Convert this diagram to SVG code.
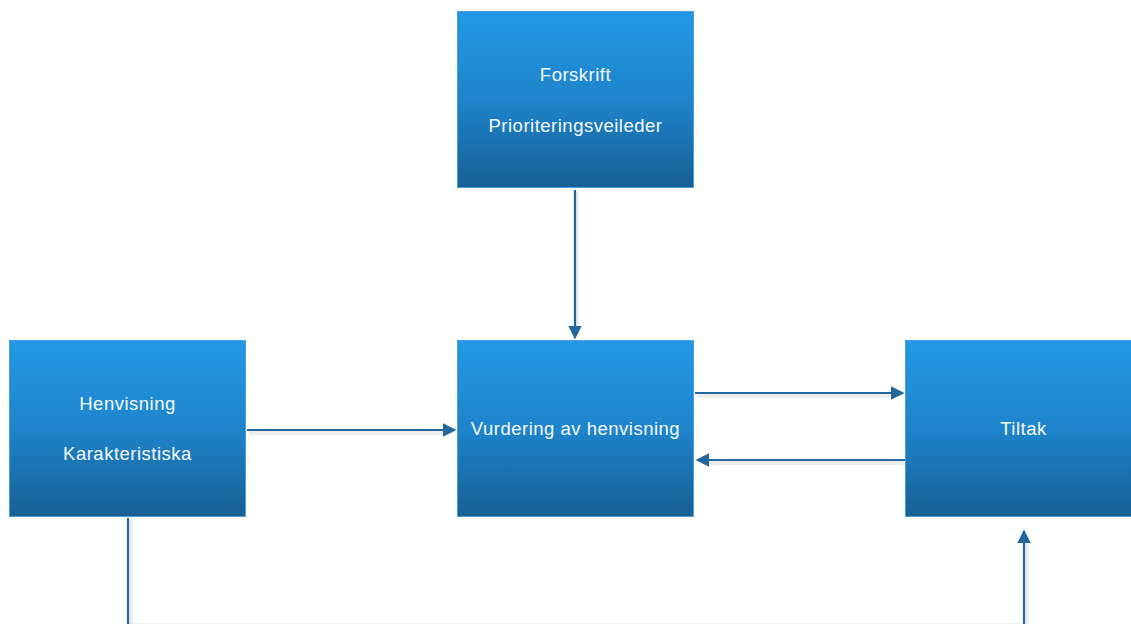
<svg xmlns="http://www.w3.org/2000/svg" width="1131" height="624" viewBox="0 0 1131 624">
<style>
.box{fill:url(#g);stroke:#4a9fdc;stroke-width:1}
.t{font-family:"Liberation Sans",Arial,sans-serif;font-size:18.5px;letter-spacing:0.5px;fill:#f4f9fd;text-anchor:middle;dominant-baseline:central}
.c{fill:none;stroke:#24679d;stroke-width:2.2}
.sh{fill:none;stroke:#000;stroke-opacity:0.07;stroke-width:4}
</style>
<defs>
<linearGradient id="g" x1="0" y1="0" x2="0" y2="1">
<stop offset="0" stop-color="#2298e6"/>
<stop offset="0.5" stop-color="#1e84cb"/>
<stop offset="1" stop-color="#175f94"/>
</linearGradient>
<marker id="a" viewBox="0 0 10 10" refX="9" refY="5" markerWidth="6.2" markerHeight="6.2" orient="auto" markerUnits="strokeWidth">
<path d="M0,0 L10,5 L0,10 z" fill="#24679d"/>
</marker>
</defs>
<rect width="1131" height="624" fill="#ffffff"/>
<g id="connectors">
<path class="sh" d="M577,192 V328 M249,433 H443 M697,396 H893 M905,463 H709 M131,520 V624 M1027,624 V532"/>
<path d="M130,623.5 H1022" fill="none" stroke="#000" stroke-opacity="0.06" stroke-width="1"/>
<path class="c" d="M575,190 V338" marker-end="url(#a)"/>
<path class="c" d="M247,430 H455" marker-end="url(#a)"/>
<path class="c" d="M695,393 H903" marker-end="url(#a)"/>
<path class="c" d="M906,460 H697" marker-end="url(#a)"/>
<path class="c" d="M128,518 V627 H1024 V531" marker-end="url(#a)"/>
</g>
<g id="forskrift">
<rect class="box" x="457.5" y="11.5" width="236" height="176"/>
<text class="t" x="575.5" y="74">Forskrift</text>
<text class="t" x="575.5" y="125">Prioriteringsveileder</text>
</g>
<g id="henvisning">
<rect class="box" x="9.5" y="340.5" width="236" height="176"/>
<text class="t" x="127.5" y="403">Henvisning</text>
<text class="t" x="127.5" y="453">Karakteristiska</text>
</g>
<g id="vurdering">
<rect class="box" x="457.5" y="340.5" width="236" height="176"/>
<text class="t" x="575.5" y="428">Vurdering av henvisning</text>
</g>
<g id="tiltak">
<rect class="box" x="905.5" y="340.5" width="236" height="176"/>
<text class="t" x="1023.5" y="428">Tiltak</text>
</g>
</svg>
